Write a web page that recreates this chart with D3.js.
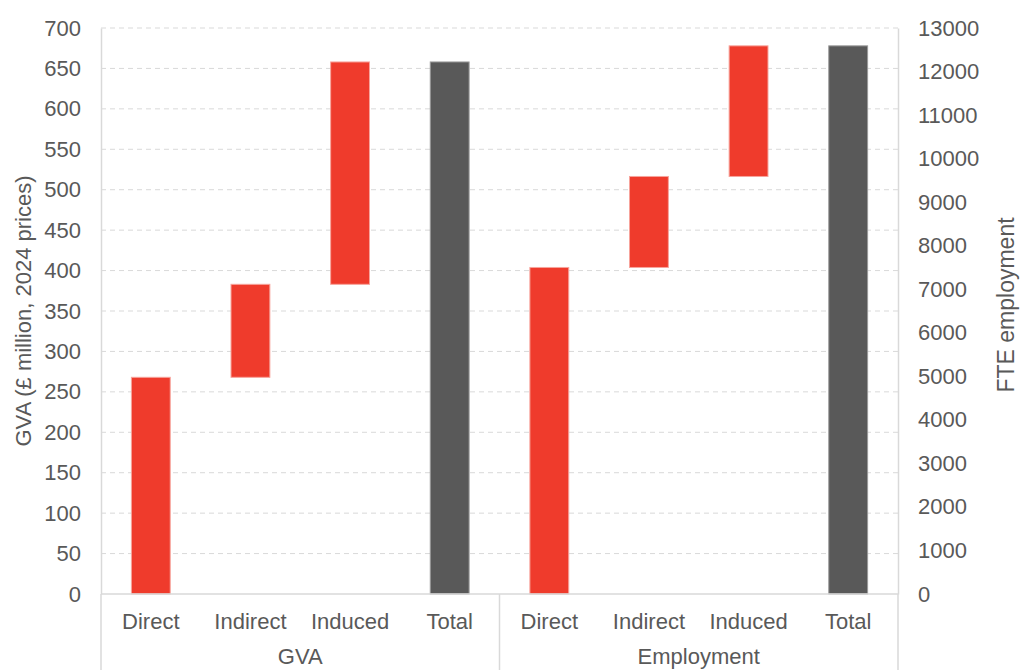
<!DOCTYPE html>
<html>
<head>
<meta charset="utf-8">
<script src="https://cdn.jsdelivr.net/npm/d3@7"></script>
<style>
  html, body { margin: 0; padding: 0; background: #fff; }
  svg { display: block; font-family: "Liberation Sans", Arial, sans-serif; }
</style>
</head>
<body>
<svg id="chart" width="1020" height="670"></svg>
<script>
// Waterfall components per group
const groups = ["GVA", "Employment"];
const components = ["Direct", "Indirect", "Induced", "Total"];
const gvaValues = [268, 115, 275, 658];             // £ million, 2024 prices
const employmentValues = [7500, 2090, 3000, 12590]; // FTE
const leftTicks = [0, 50, 100, 150, 200, 250, 300, 350, 400, 450, 500, 550, 600, 650, 700];
const rightTicks = [0, 1000, 2000, 3000, 4000, 5000, 6000, 7000, 8000, 9000, 10000, 11000, 12000, 13000];

const svg = d3.select("#chart");
const m = { left: 101, right: 898, top: 28, bottom: 594 };
const textColor = "#595959";
const gridColor = "#d9d9d9";
const fontSize = 22;

const slots = [];
groups.forEach(g => components.forEach(c => slots.push(g + "|" + c)));

const x = d3.scaleBand().domain(slots).range([m.left, m.right]).paddingInner(0.6).paddingOuter(0.3);
const yL = d3.scaleLinear().domain([0, 700]).range([m.bottom, m.top]);
const yR = d3.scaleLinear().domain([0, 13000]).range([m.bottom, m.top]);

// gridlines
svg.append("g").selectAll("line").data(leftTicks.slice(1)).join("line")
  .attr("x1", m.left).attr("x2", m.right)
  .attr("y1", d => yL(d)).attr("y2", d => yL(d))
  .attr("stroke", gridColor).attr("stroke-width", 1).attr("stroke-dasharray", "5,4");

// build waterfall segments: components stack, the last one is the full total
function segments(group, vals, scale) {
  const out = [];
  let run = 0;
  vals.forEach((v, i) => {
    if (i < vals.length - 1) {
      out.push({ key: group + "|" + components[i], lo: run, hi: run + v, total: false, scale });
      run += v;
    } else {
      out.push({ key: group + "|" + components[i], lo: 0, hi: v, total: true, scale });
    }
  });
  return out;
}
const bars = segments("GVA", gvaValues, yL).concat(segments("Employment", employmentValues, yR));

svg.append("g").selectAll("rect").data(bars).join("rect")
  .attr("x", d => x(d.key) + 0.5)
  .attr("width", x.bandwidth() - 1)
  .attr("y", d => d.scale(d.hi))
  .attr("height", d => d.scale(d.lo) - d.scale(d.hi))
  .attr("fill", d => d.total ? "#595959" : "#ef3b2c")
  .attr("stroke", d => d.total ? "#9a9a9a" : "#f7a49c")
  .attr("stroke-width", 1);

// left axis
const axL = svg.append("g").attr("transform", `translate(${m.left},0)`)
  .call(d3.axisLeft(yL).tickValues(leftTicks).tickSize(0).tickPadding(20));
axL.select(".domain").attr("stroke", gridColor).attr("stroke-width", 1.5);
axL.selectAll("text").attr("fill", textColor).attr("font-size", fontSize).attr("font-family", "Liberation Sans, Arial, sans-serif");

// right axis
const axR = svg.append("g").attr("transform", `translate(${m.right},0)`)
  .call(d3.axisRight(yR).tickValues(rightTicks).tickFormat(d3.format("d")).tickSize(0).tickPadding(20));
axR.select(".domain").attr("stroke", gridColor).attr("stroke-width", 1.5);
axR.selectAll("text").attr("fill", textColor).attr("font-size", fontSize).attr("font-family", "Liberation Sans, Arial, sans-serif");

// bottom category axis with group dividers
svg.append("line").attr("x1", m.left).attr("x2", m.right).attr("y1", m.bottom).attr("y2", m.bottom)
  .attr("stroke", gridColor).attr("stroke-width", 1.5);
const dividers = [m.left, (m.left + m.right) / 2, m.right];
svg.append("g").selectAll("line").data(dividers).join("line")
  .attr("x1", d => d).attr("x2", d => d).attr("y1", m.bottom).attr("y2", 670)
  .attr("stroke", gridColor).attr("stroke-width", 1.5);

svg.append("g").selectAll("text").data(slots).join("text")
  .attr("x", d => x(d) + x.bandwidth() / 2)
  .attr("y", 629)
  .attr("text-anchor", "middle")
  .attr("fill", textColor).attr("font-size", fontSize)
  .text(d => d.split("|")[1]);

const groupWidth = (m.right - m.left) / groups.length;
svg.append("g").selectAll("text").data(groups).join("text")
  .attr("x", (d, i) => m.left + groupWidth * (i + 0.5))
  .attr("y", 664)
  .attr("text-anchor", "middle")
  .attr("fill", textColor).attr("font-size", fontSize)
  .text(d => d);

// axis titles
svg.append("text")
  .attr("transform", `translate(31,311) rotate(-90)`)
  .attr("text-anchor", "middle").attr("fill", textColor).attr("font-size", fontSize)
  .text("GVA (£ million, 2024 prices)");
svg.append("text")
  .attr("transform", `translate(1014,305) rotate(-90)`)
  .attr("text-anchor", "middle").attr("fill", textColor).attr("font-size", 23)
  .text("FTE employment");
</script>
</body>
</html>
